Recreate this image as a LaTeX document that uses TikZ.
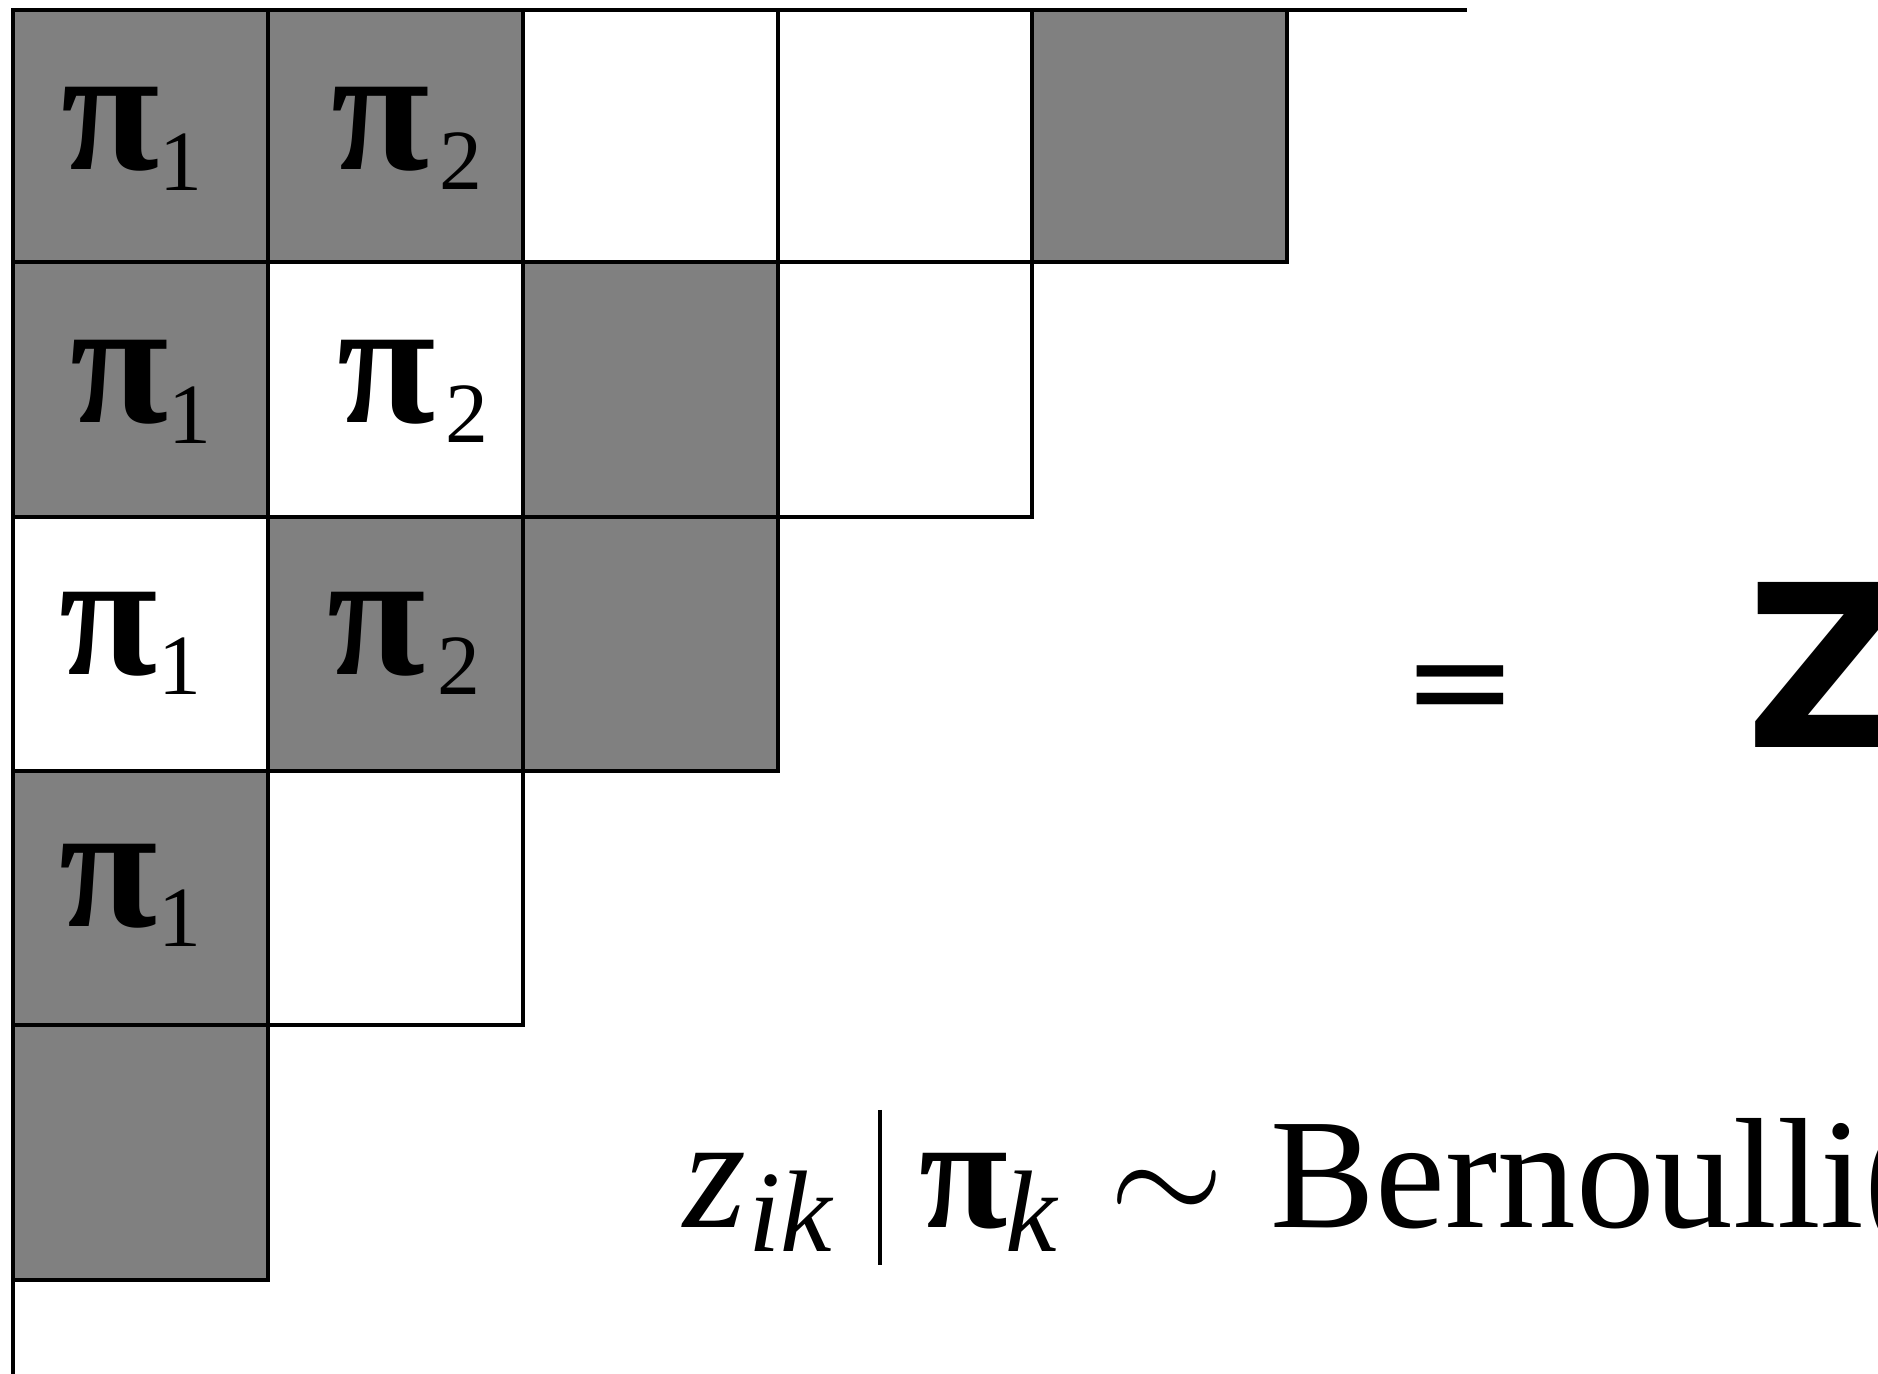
\RequirePackage{fix-cm}
\documentclass[tikz,border=0pt]{standalone}
\usepackage{fontspec}
\setmainfont{Liberation Serif}
\newfontfamily\djsans{DejaVu Sans}
\definecolor{cellgray}{HTML}{808080}
\begin{document}
\begin{tikzpicture}[x=0.01cm,y=-0.01cm,
  gridline/.style={draw=black,line width=1.1pt},
  cellg/.style={fill=cellgray,gridline},
  cellw/.style={fill=white,gridline},
  pisym/.style={inner sep=0pt,anchor=base west,font=\fontsize{51}{51}\selectfont\bfseries},
  subn/.style={inner sep=0pt,anchor=base west,font=\fontsize{24.4}{24.4}\selectfont},
  eqtxt/.style={inner sep=0pt,anchor=base west,font=\fontsize{44.7}{44.7}\selectfont},
  eqsub/.style={inner sep=0pt,anchor=base west,font=\fontsize{33}{33}\selectfont\itshape}]
\useasboundingbox (0,0) rectangle (1878,1374);
\clip (0,0) rectangle (1878,1374);
\fill[white] (0,0) rectangle (1878,1374);
% row 1
\path[cellg] (13,10) rectangle (268,262);
\path[cellg] (268,10) rectangle (523,262);
\path[cellw] (523,10) rectangle (778,262);
\path[cellw] (778,10) rectangle (1032,262);
\path[cellg] (1032,10) rectangle (1287,262);
% row 2
\path[cellg] (13,262) rectangle (268,517);
\path[cellw] (268,262) rectangle (523,517);
\path[cellg] (523,262) rectangle (778,517);
\path[cellw] (778,262) rectangle (1032,517);
% row 3
\path[cellw] (13,517) rectangle (268,771);
\path[cellg] (268,517) rectangle (523,771);
\path[cellg] (523,517) rectangle (778,771);
% row 4
\path[cellg] (13,771) rectangle (268,1025);
\path[cellw] (268,771) rectangle (523,1025);
% row 5
\path[cellg] (13,1025) rectangle (268,1280);
% frame lines
\coordinate (tl) at (13,10);
\coordinate (tr) at (1467,10);
\coordinate (bl) at (13,1374);
\draw[gridline] (tl) -- (tr);
\draw[gridline] (tl) -- (bl);
% labels
\node[pisym] (p11) at (61,170) {π};  \node[subn] (s11) at (159,191) {1};
\node[pisym] (p12) at (331,170) {π}; \node[subn] (s12) at (439,190) {2};
\node[pisym] (p21) at (70,423) {π};  \node[subn] (s21) at (168,444) {1};
\node[pisym] (p22) at (337,423) {π}; \node[subn] (s22) at (445,443) {2};
\node[pisym] (p31) at (59,675) {π};  \node[subn] (s31) at (158,695) {1};
\node[pisym] (p32) at (327,675) {π}; \node[subn] (s32) at (437,695) {2};
\node[pisym] (p41) at (59,927) {π};  \node[subn] (s41) at (158,947) {1};
% equals and Z
\node[inner sep=0pt,anchor=base west,font=\djsans\fontsize{39.3}{39.3}\selectfont] (eq) at (1402,729) {=};
\node[inner sep=0pt,anchor=base west,font=\djsans\bfseries\fontsize{64.4}{64.4}\selectfont] (zz) at (1745,748) {Z};
% Bernoulli line
\node[eqtxt,font=\fontsize{46}{46}\selectfont\itshape] (z) at (683,1228) {z};
\node[eqsub] (ik) at (748,1252) {ik};
\coordinate (bart) at (880,1110);
\coordinate (barb) at (880,1265);
\draw[line width=1.1pt] (bart) -- (barb);
\node[eqtxt,font=\fontsize{46}{46}\selectfont\bfseries] (pk) at (919,1228) {π};
\node[eqsub] (k) at (1005,1252) {k};
\node[inner sep=0pt,anchor=base,font=\fontsize{42}{42}\selectfont] (sim) at (1167,1225) {$\sim$};
\node[eqtxt] (bern) at (1270,1228) {Bernoulli(};
\end{tikzpicture}
\end{document}
